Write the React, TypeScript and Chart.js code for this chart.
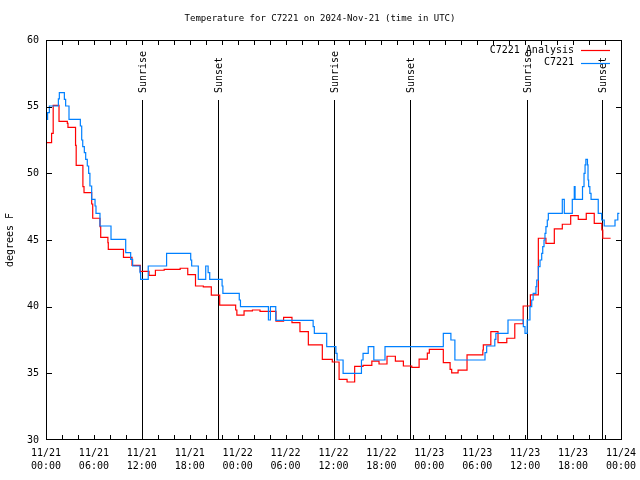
import React, { useEffect, useRef } from 'react';
import { Chart, registerables } from 'chart.js';

Chart.register(...registerables);

const TITLE = 'Temperature for C7221 on 2024-Nov-21 (time in UTC)';
const Y_LABEL = 'degrees F';
const DAY_LABELS = ['11/21', '11/22', '11/23', '11/24'];
const TIME_LABELS = ['00:00', '06:00', '12:00', '18:00'];
const X_MIN = 0;
const X_MAX = 72;
const Y_MIN = 30;
const Y_MAX = 60;
const SERIES_NAMES = ['C7221 Analysis', 'C7221'];

const analysisHours = [0, 0.7, 0.9, 1.63, 2.67, 2.75, 3.7, 3.78, 4.62, 4.76, 5.72, 5.85, 6.76, 6.85, 7.75, 7.8, 9.7, 10.77, 11.8, 12.9, 13.7, 14.8, 16.8, 17.75, 18.72, 19.7, 20.7, 21.75, 23.75, 23.9, 24.8, 25.85, 26.8, 28.8, 29.75, 30.8, 31.8, 32.85, 34.6, 35.85, 36.7, 37.7, 38.65, 39.7, 40.8, 41.7, 42.7, 43.75, 44.75, 45.8, 46.72, 47.75, 48.0, 49.75, 50.6, 50.8, 51.6, 52.72, 54.7, 54.76, 55.7, 56.6, 57.7, 58.7, 59.75, 60.65, 61.65, 62.6, 63.65, 64.65, 65.7, 66.65, 67.65, 68.65, 69.6, 69.72, 70.7];
const analysisTemps = [52.3, 53.0, 55.1, 53.9, 53.75, 53.45, 52.1, 50.6, 49.0, 48.55, 47.7, 46.63, 46.0, 45.2, 44.8, 44.3, 43.7, 43.1, 42.65, 42.35, 42.73, 42.8, 42.88, 42.4, 41.55, 41.48, 40.87, 40.12, 39.75, 39.36, 39.68, 39.75, 39.65, 38.92, 39.2, 38.8, 38.13, 37.13, 36.05, 35.85, 34.55, 34.35, 35.52, 35.6, 35.92, 35.7, 36.28, 35.92, 35.55, 35.45, 36.06, 36.52, 36.8, 35.8, 35.3, 35.03, 35.24, 36.38, 36.75, 37.13, 38.13, 37.3, 37.63, 38.72, 40.05, 40.88, 45.13, 44.75, 45.83, 46.18, 46.83, 46.55, 47.0, 46.25, 45.75, 45.13, 45.13];

const obsHours = [0, 0.2, 0.42, 1.55, 1.67, 2.3, 2.46, 2.88, 4.3, 4.47, 4.6, 4.8, 4.97, 5.17, 5.34, 5.5, 5.72, 6.14, 6.26, 6.76, 8.14, 9.98, 10.6, 10.85, 11.77, 11.85, 12.8, 15.1, 18.12, 18.24, 19.07, 20.0, 20.3, 20.5, 22.05, 22.15, 24.2, 24.35, 27.85, 28.1, 28.77, 33.45, 33.6, 35.15, 36.3, 36.45, 37.2, 39.5, 39.7, 40.35, 41.05, 42.45, 49.75, 50.7, 51.2, 54.97, 55.18, 56.2, 56.33, 57.85, 59.77, 59.98, 60.25, 60.6, 60.82, 61.0, 61.35, 61.45, 61.65, 61.86, 62.07, 62.2, 62.36, 62.48, 62.6, 62.77, 62.9, 64.65, 64.9, 65.9, 66.15, 66.25, 67.18, 67.37, 67.5, 67.6, 67.8, 67.87, 67.95, 68.1, 68.25, 69.15, 69.58, 69.9, 71.25, 71.6, 71.8];
const obsTemps = [54.05, 54.55, 55.05, 55.58, 56.05, 55.55, 55.05, 54.05, 53.55, 52.5, 52.0, 51.55, 51.05, 50.55, 50.0, 49.05, 48.05, 47.55, 47.0, 46.05, 45.05, 44.05, 43.55, 43.05, 42.55, 42.05, 43.05, 44.0, 43.5, 43.05, 42.05, 43.05, 42.55, 42.05, 41.55, 41.0, 40.5, 40.0, 39.0, 40.0, 38.97, 38.5, 38.0, 37.0, 36.5, 36.0, 35.0, 36.0, 36.5, 37.0, 36.0, 37.0, 38.0, 37.5, 36.0, 36.55, 37.05, 37.55, 38.0, 39.0, 38.5, 38.0, 39.0, 40.0, 40.5, 41.0, 41.5, 42.0, 43.0, 43.5, 44.0, 44.5, 45.0, 45.5, 46.0, 46.5, 47.0, 48.05, 47.0, 48.05, 49.0, 48.05, 49.0, 50.0, 50.63, 51.05, 50.63, 49.5, 49.0, 48.5, 48.05, 47.0, 46.5, 46.05, 46.5, 47.0, 47.0];

const eventHours = [12.06, 21.58, 36.1, 45.62, 60.19, 69.58];
const eventLabels = ['Sunrise', 'Sunset', 'Sunrise', 'Sunset', 'Sunrise', 'Sunset'];

const FONT = 'DejaVu Sans Mono';
const RED = '#ff0000';
const BLUE = 'rgb(0,128,255)';

const decorPlugin = {
  id: 'decor',
  beforeDatasetsDraw(chart: any) {
    const { ctx, chartArea, scales } = chart;
    ctx.save();
    ctx.strokeStyle = '#000';
    ctx.lineWidth = 1;
    ctx.fillStyle = '#000';
    ctx.font = `10px ${FONT}`;
    eventHours.forEach((h, i) => {
      const x = Math.round(scales.x.getPixelForValue(h)) + 0.5;
      ctx.beginPath();
      ctx.moveTo(x, 100);
      ctx.lineTo(x, chartArea.bottom);
      ctx.stroke();
      ctx.save();
      ctx.translate(x + 0.5, 93);
      ctx.rotate(-Math.PI / 2);
      ctx.textAlign = 'left';
      ctx.textBaseline = 'middle';
      ctx.fillText(eventLabels[i], 0, 0);
      ctx.restore();
    });
    ctx.restore();
  },
  afterDraw(chart: any) {
    const { ctx, chartArea, scales } = chart;
    const { left, right, top, bottom } = chartArea;
    ctx.save();
    ctx.strokeStyle = '#000';
    ctx.lineWidth = 1;
    ctx.strokeRect(left + 0.5, top + 0.5, right - left, bottom - top - 1);
    ctx.beginPath();
    for (let h = X_MIN + 2; h < X_MAX; h += 2) {
      const x = Math.round(scales.x.getPixelForValue(h)) + 0.5;
      ctx.moveTo(x, bottom - 1);
      ctx.lineTo(x, bottom - 5);
      ctx.moveTo(x, top + 1);
      ctx.lineTo(x, top + 5);
    }
    for (let v = Y_MIN + 5; v < Y_MAX; v += 5) {
      const y = Math.round(scales.y.getPixelForValue(v)) + 0.5;
      ctx.moveTo(left + 1, y);
      ctx.lineTo(left + 6, y);
      ctx.moveTo(right, y);
      ctx.lineTo(right - 5, y);
    }
    ctx.stroke();

    ctx.fillStyle = '#000';
    ctx.font = `9px ${FONT}`;
    ctx.textAlign = 'center';
    ctx.textBaseline = 'middle';
    ctx.fillText(TITLE, 320, 19);

    ctx.font = `10px ${FONT}`;
    ctx.save();
    ctx.translate(10, 240);
    ctx.rotate(-Math.PI / 2);
    ctx.fillText(Y_LABEL, 0, 0);
    ctx.restore();

    ctx.textAlign = 'right';
    const colors = [RED, BLUE];
    SERIES_NAMES.forEach((name, i) => {
      const y = 50 + i * 12.5;
      ctx.fillStyle = '#000';
      ctx.fillText(name, 574, y);
      ctx.strokeStyle = colors[i];
      ctx.lineWidth = 1.2;
      ctx.beginPath();
      ctx.moveTo(581, Math.round(y) + 0.5);
      ctx.lineTo(610, Math.round(y) + 0.5);
      ctx.stroke();
    });
    ctx.restore();
  },
};

export default function App() {
  const ref = useRef<HTMLCanvasElement | null>(null);
  useEffect(() => {
    if (!ref.current) return;
    const tickFont = { family: FONT, size: 10, lineHeight: 1.3 };
    const chart = new Chart(ref.current, {
      type: 'line',
      data: {
        datasets: [
          {
            label: SERIES_NAMES[0],
            data: analysisHours.map((h, i) => ({ x: h, y: analysisTemps[i] })),
            borderColor: RED,
            borderWidth: 1.2,
            stepped: 'before',
            pointRadius: 0,
            fill: false,
            order: 1,
          },
          {
            label: SERIES_NAMES[1],
            data: obsHours.map((h, i) => ({ x: h, y: obsTemps[i] })),
            borderColor: BLUE,
            borderWidth: 1.2,
            stepped: 'before',
            pointRadius: 0,
            fill: false,
            order: 0,
          },
        ],
      },
      options: {
        animation: false,
        responsive: false,
        devicePixelRatio: 1,
        layout: { padding: { top: 40, right: 19, left: 0, bottom: 0 } },
        plugins: { legend: { display: false }, tooltip: { enabled: false }, title: { display: false } },
        scales: {
          x: {
            type: 'linear',
            min: X_MIN,
            max: X_MAX,
            grid: { display: false, drawTicks: false },
            border: { display: false },
            ticks: {
              stepSize: 6,
              autoSkip: false,
              maxRotation: 0,
              padding: 7,
              color: '#000',
              font: tickFont,
              callback: (v: any) => {
                const n = Number(v);
                if (n % 6 !== 0) return '';
                return [DAY_LABELS[Math.floor(n / 24)], TIME_LABELS[(n % 24) / 6]];
              },
            },
            afterFit: (s: any) => {
              s.height = 40;
              s.paddingLeft = 0;
              s.paddingRight = 0;
            },
          },
          y: {
            min: Y_MIN,
            max: Y_MAX,
            grid: { display: false, drawTicks: false },
            border: { display: false },
            ticks: { stepSize: 5, padding: 7, color: '#000', font: tickFont },
            afterFit: (s: any) => {
              s.width = 46;
              s.paddingTop = 0;
              s.paddingBottom = 0;
            },
          },
        },
      },
      plugins: [decorPlugin],
    });
    return () => chart.destroy();
  }, []);
  return (
    <canvas
      ref={ref}
      width={640}
      height={480}
      style={{ position: 'absolute', left: 0, top: 0, width: 640, height: 480 }}
    />
  );
}
